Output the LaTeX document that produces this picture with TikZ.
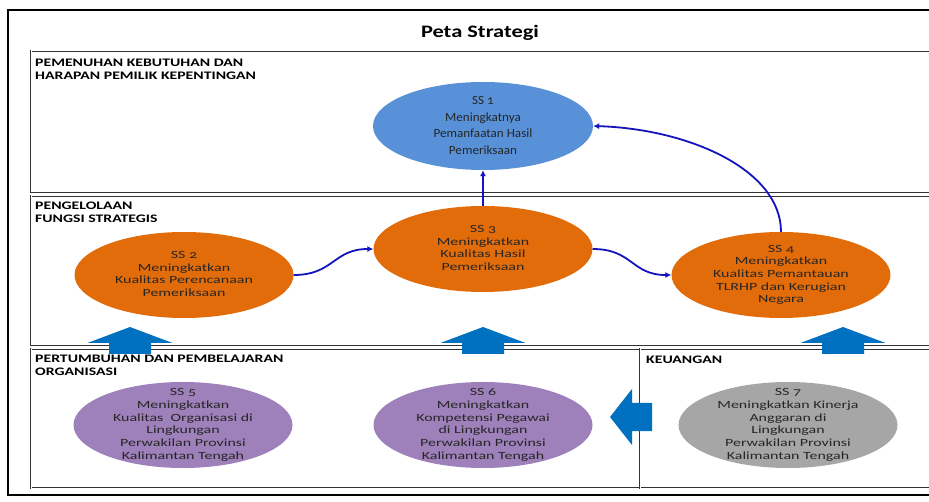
\documentclass[tikz,border=0pt]{standalone}
\usepackage{fontspec}
\usetikzlibrary{shapes.geometric,arrows.meta}
\setmainfont{Carlito}
\newfontfamily\ellfont[FakeStretch=1.45,Numbers=OldStyle]{Carlito}
\newfontfamily\onefont[FakeStretch=1.05,Numbers=OldStyle]{Carlito}
\newfontfamily\headfont[FakeStretch=1.37]{Carlito}
\newfontfamily\titlefont[FakeStretch=1.28]{Carlito}
\newcommand\sslines[1]{\begin{tabular}{@{}c@{}}#1\end{tabular}}
\newcommand\hdlines[1]{\begin{tabular}{@{}l@{}}#1\end{tabular}}
\definecolor{ssblue}{RGB}{88,145,215}
\definecolor{ssorange}{RGB}{227,108,10}
\definecolor{sspurple}{RGB}{158,128,186}
\definecolor{ssgray}{RGB}{166,166,166}
\definecolor{blockblue}{RGB}{0,112,192}
\definecolor{connblue}{RGB}{20,20,190}
\tikzset{
  ss/.style={ellipse, minimum width=219pt, minimum height=86pt, inner sep=-12pt,
    text=black!85, font=\ellfont\fontsize{11}{12.7}\selectfont},
  head/.style={anchor=north west, inner sep=0pt,
    font=\headfont\bfseries\fontsize{11.5}{12.7}\selectfont},
  secbox/.style={draw=black!80, line width=0.6pt, double=white, double distance=1pt},
  conn/.style={draw=connblue, line width=1.8pt, -{Latex[length=6pt,width=6pt]}},
  blockarrow/.style={fill=blockblue, draw=none}
}
\begin{document}
\begin{tikzpicture}[x=1pt,y=-1pt]
\useasboundingbox (0,0) rectangle (929,502);
\clip (0,0) rectangle (929,502);
\fill[white] (0,0) rectangle (929,502);
% outer frame
\draw[line width=2.5pt] (8,10) rectangle (950,495);
\node[font=\titlefont\bfseries\fontsize{17.5}{20}\selectfont, anchor=base, inner sep=0pt] (title) at (480,38) {Peta Strategi};
% section boxes
\draw[secbox] (31,51) rectangle (950,192);
\draw[secbox] (31,196) rectangle (950,345);
\draw[secbox] (31,349) rectangle (640,488);
\draw[secbox] (640,349) rectangle (950,488);
% headings
\node[head] (h1) at (35,57.5) {\hdlines{PEMENUHAN KEBUTUHAN DAN\\HARAPAN PEMILIK KEPENTINGAN}};
\node[head] (h2) at (35,200.5) {\hdlines{PENGELOLAAN\\FUNGSI STRATEGIS}};
\node[head] (h3) at (35,353.5) {\hdlines{PERTUMBUHAN DAN PEMBELAJARAN\\ORGANISASI}};
\node[head] (h4) at (646,354.5) {\hdlines{KEUANGAN}};
% ellipses
\node[ss, fill=ssblue, minimum width=220pt, minimum height=88pt,
  font=\onefont\fontsize{12.5}{16.5}\selectfont] (ss1) at (483,126) {\sslines{SS 1\\Meningkatnya\\Pemanfaatan Hasil\\Pemeriksaan}};
\node[ss, fill=ssorange] (ss2) at (184,275) {\sslines{SS 2\\Meningkatkan\\Kualitas Perencanaan\\Pemeriksaan}};
\node[ss, fill=ssorange] (ss3) at (483,249) {\sslines{SS 3\\Meningkatkan\\Kualitas Hasil\\Pemeriksaan}};
\node[ss, fill=ssorange] (ss4) at (781,275) {\sslines{SS 4\\Meningkatkan\\Kualitas Pemantauan\\TLRHP dan Kerugian\\Negara}};
\node[ss, fill=sspurple] (ss5) at (183,425) {\sslines{SS 5\\Meningkatkan\\Kualitas \ Organisasi di\\Lingkungan\\Perwakilan Provinsi\\Kalimantan Tengah}};
\node[ss, fill=sspurple] (ss6) at (483,425) {\sslines{SS 6\\Meningkatkan\\Kompetensi Pegawai\\di Lingkungan\\Perwakilan Provinsi\\Kalimantan Tengah}};
\node[ss, fill=ssgray] (ss7) at (788,425) {\sslines{SS 7\\Meningkatkan Kinerja\\Anggaran di\\Lingkungan\\Perwakilan Provinsi\\Kalimantan Tengah}};
% connectors
\draw[conn] (ss3.north) -- (ss1.south);
\draw[conn] (ss2.east) .. controls +(40,0) and +(-40,0) .. (ss3.west);
\draw[conn] (ss3.east) .. controls +(40,0) and +(-40,0) .. (ss4.west);
\draw[conn] (ss4.north) .. controls +(0,-62) and +(96,3) .. (ss1.east);
% block arrows
\foreach \cx in {130,483,843}{
  \fill[blockarrow] (\cx,327) -- (\cx+42.5,343) -- (\cx+21,343) -- (\cx+21,354)
    -- (\cx-21,354) -- (\cx-21,343) -- (\cx-42.5,343) -- cycle;
}
\fill[blockarrow] (610,417) -- (632,389) -- (632,403) -- (652,403) -- (652,431)
  -- (632,431) -- (632,445) -- cycle;
\end{tikzpicture}
\end{document}
